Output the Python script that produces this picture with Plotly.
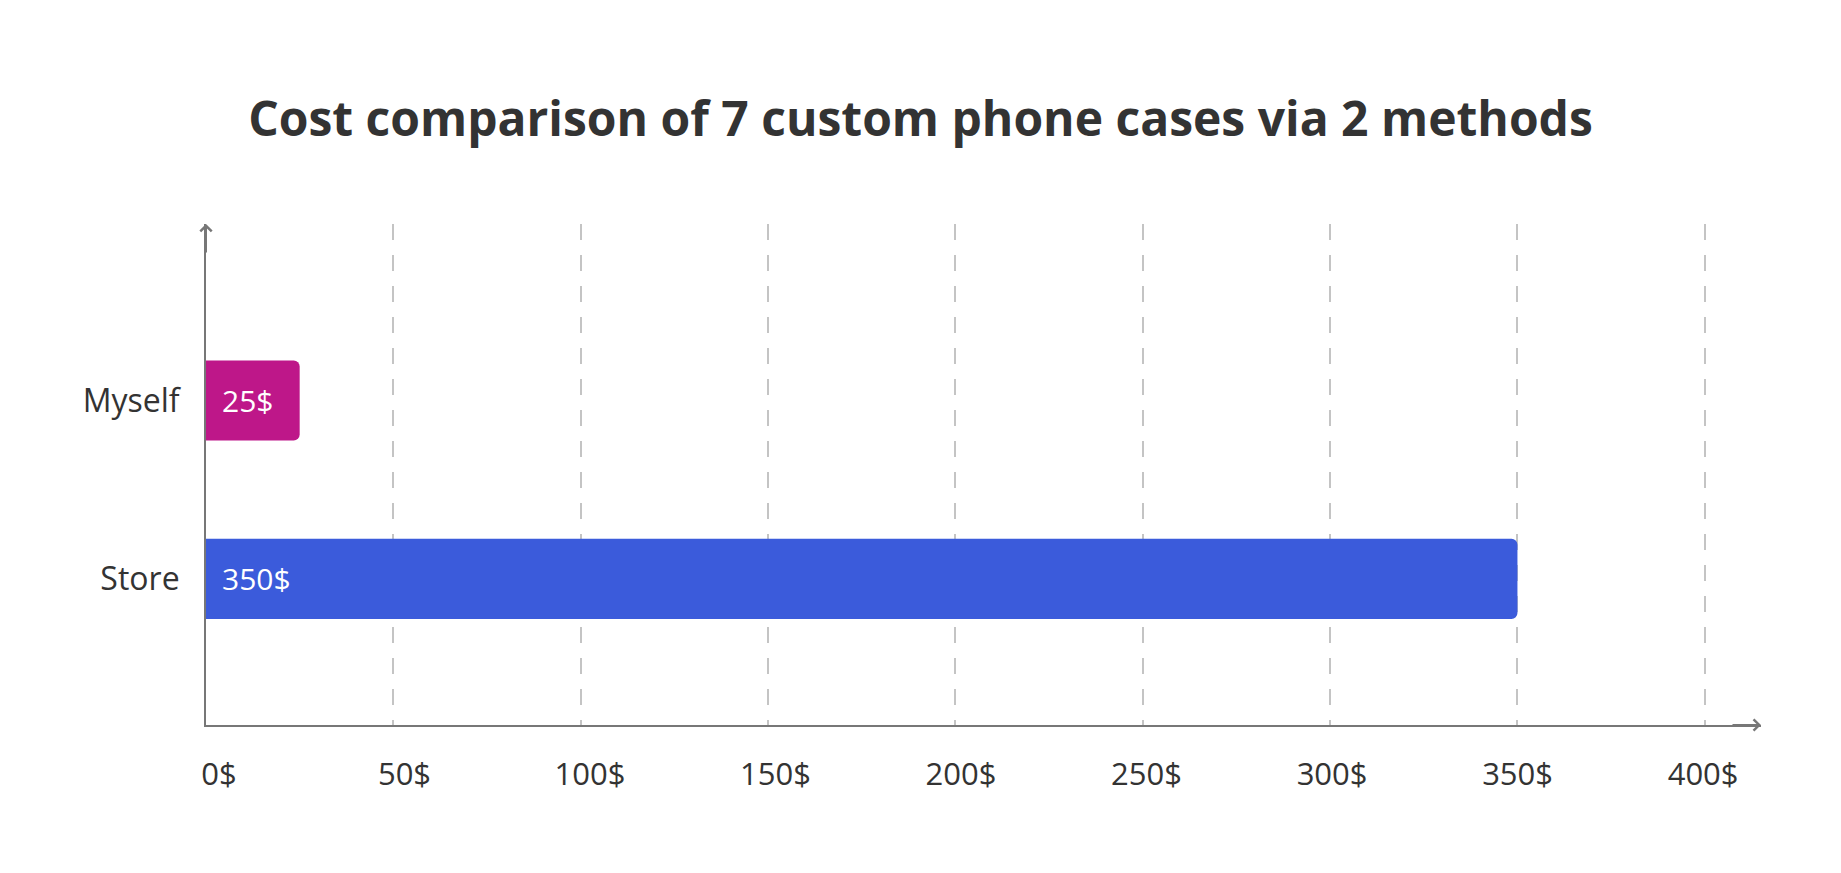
import plotly.graph_objects as go

# data
methods = ['Store', 'Myself']
costs = [350, 25]
bar_colors = ['#3b5bdb', '#be1789']
cost_labels = ['350$', '25$']
tick_values = [0, 50, 100, 150, 200, 250, 300, 350, 400]
tick_labels = ['0$', '50$', '100$', '150$', '200$', '250$', '300$', '350$', '400$']

font_family = 'Open Sans, Noto Sans, sans-serif'
axis_color = '#777777'

fig = go.Figure()
fig.add_trace(go.Bar(
    x=costs,
    y=methods,
    orientation='h',
    marker=dict(color=bar_colors, line=dict(width=0)),
    width=0.45,
    hoverinfo='skip',
))
# invisible trace so the label axis gets drawn
fig.add_trace(go.Scatter(
    x=costs,
    y=methods,
    xaxis='x2',
    mode='markers',
    marker=dict(opacity=0),
    hoverinfo='skip',
))

# value labels, just inside the start of each bar
for m, lbl in zip(methods, cost_labels):
    fig.add_annotation(
        x=0, y=m, text=lbl, showarrow=False,
        xanchor='left', yanchor='middle', xshift=14,
        font=dict(family=font_family, size=30, color='white'),
    )

# arrow heads at the ends of the axes
fig.add_annotation(
    x=1, y=0, xref='paper', yref='paper', text='', showarrow=True,
    ax=-30, ay=0, arrowhead=4, arrowsize=1.1, arrowwidth=2, arrowcolor=axis_color,
)
fig.add_annotation(
    x=0, y=1, xref='paper', yref='paper', text='', showarrow=True,
    ax=0, ay=30, arrowhead=4, arrowsize=1.1, arrowwidth=2, arrowcolor=axis_color,
)

# the page body keeps its default 8px margin, so the figure is 16px smaller
fig.update_layout(
    width=1825,
    height=857,
    paper_bgcolor='white',
    plot_bgcolor='white',
    margin=dict(l=198, r=72, t=216, b=140),
    barcornerradius=6,
    showlegend=False,
    font=dict(family=font_family, color='#333333'),
    title=dict(
        text='<b>Cost comparison of 7 custom phone cases via 2 methods</b>',
        x=0.5, xanchor='center',
        y=1 - 111 / 857, yanchor='middle',
        font=dict(family=font_family, size=48, color='#333333'),
    ),
    xaxis=dict(
        range=[0, 415],
        tickvals=tick_values,
        showticklabels=False,
        showgrid=True,
        gridcolor='#c4c4c4',
        gridwidth=2,
        griddash='16px,15px',
        zeroline=False,
        showline=True,
        linecolor=axis_color,
        linewidth=2,
        ticks='',
    ),
    # labels in the original sit on a slightly narrower scale than the grid
    xaxis2=dict(
        overlaying='x',
        side='bottom',
        anchor='y',
        range=[-3.5, 415.6],
        tickvals=tick_values,
        ticktext=tick_labels,
        showgrid=False,
        zeroline=False,
        showline=False,
        ticks='',
        ticklabelstandoff=28,
        tickfont=dict(family=font_family, size=31, color='#333333'),
    ),
    yaxis=dict(
        range=[-0.82, 1.99],
        showgrid=False,
        zeroline=False,
        showline=True,
        linecolor=axis_color,
        linewidth=2,
        ticks='',
        ticklabelstandoff=18,
        tickfont=dict(family=font_family, size=32, color='#333333'),
    ),
)

fig.write_html('out.html')
